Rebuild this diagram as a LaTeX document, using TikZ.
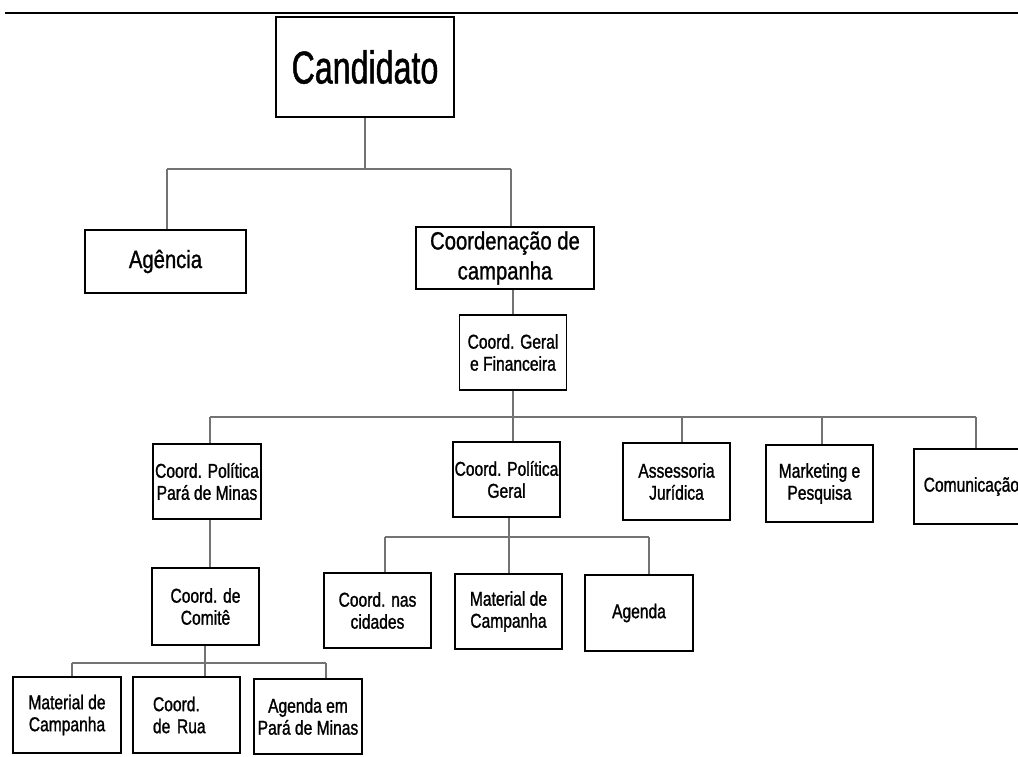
\documentclass[tikz,border=0pt]{standalone}
\usepackage{fontspec}
\setmainfont[FakeStretch=0.78,FakeBold=1.2]{Liberation Sans}
\newfontfamily\medfont[FakeStretch=0.81,FakeBold=1.0]{Liberation Sans}
\newfontfamily\bigfont[FakeStretch=0.70,FakeBold=1.0]{Liberation Sans}
\tikzset{
  box/.style={draw=black, line width=1.8pt, inner sep=0pt, align=center,
    minimum width=107, minimum height=75, font=\fontsize{20}{22}\selectfont},
  medbox/.style={box, font=\medfont\fontsize{25}{30}\selectfont},
  bigbox/.style={box, font=\bigfont\fontsize{46}{50}\selectfont},
  conn/.style={draw=black!55, line width=1.3pt},
  rule/.style={draw=black, line width=2pt}
}
\begin{document}
\begin{tikzpicture}[x=1pt,y=-1pt]
\useasboundingbox (0,0) rectangle (1018,756);
% top rule
\coordinate (tl) at (5,13);
\coordinate (tr) at (1018,13);
\draw[rule] (tl) -- (tr);

% nodes
\node[bigbox, minimum width=178, minimum height=100] (cand) at (365,67) {Candidato};
\node[medbox, minimum width=161, minimum height=63] (agen) at (165.5,261.5) {Agência};
\node[medbox, minimum width=178, minimum height=62] (coordc) at (505,258) {Coordenação de\\campanha};
\node[box] (geral) at (513,352.5) {Coord. Geral\\e Financeira};
\node[box, minimum width=108] (cpp) at (207,481.5) {Coord. Política\\Pará de Minas};
\node[box] (cpg) at (506.5,479.5) {Coord. Política\\Geral};
\node[box, minimum height=77] (assess) at (676.5,481.5) {Assessoria\\Jurídica};
\node[box, minimum height=77] (mkt) at (819.5,483.5) {Marketing e\\Pesquisa};
\node[box, minimum width=115, anchor=west] (com) at (913,486.5) {Comunicação};
\node[box, minimum height=77] (comite) at (205.5,606.5) {Coord. de\\Comitê};
\node[box] (cnc) at (377.5,610.5) {Coord. nas\\cidades};
\node[box] (mat) at (508.5,611.5) {Material de\\Campanha};
\node[box, minimum width=108, minimum height=76] (agenda) at (639,613) {Agenda};
\node[box, minimum width=108, minimum height=76] (mat2) at (67,715) {Material de\\Campanha};
\node[box, minimum height=76, align=left, text width=67, inner xsep=20] (rua) at (186.5,715) {Coord.\\de Rua};
\node[box, minimum width=108] (agpm) at (308,716.5) {Agenda em\\Pará de Minas};

% level 1 bus
\coordinate (b1) at (365,169);
\coordinate (b1l) at (167,169);
\coordinate (b1r) at (511,169);
\draw[conn] (cand.south) -- (b1);
\draw[conn] (b1l) -- (b1r);
\draw[conn] (b1l) -- (b1l |- agen.north);
\draw[conn] (b1r) -- (b1r |- coordc.north);
\draw[conn] (coordc.south -| geral.north) -- (geral.north);

% level 2 bus
\coordinate (b2l) at (210,417);
\coordinate (b2r) at (976,417);
\coordinate (d3) at (682,417);
\coordinate (d4) at (822,417);
\draw[conn] (geral.south) -- (geral.south |- cpg.north);
\draw[conn] (b2l) -- (b2r);
\draw[conn] (b2l) -- (b2l |- cpp.north);
\draw[conn] (d3) -- (d3 |- assess.north);
\draw[conn] (d4) -- (d4 |- mkt.north);
\draw[conn] (b2r) -- (b2r |- com.north);
\draw[conn] (b2l |- cpp.south) -- (b2l |- comite.north);

% level 3 bus (Coord. Politica Geral)
\coordinate (b3) at (509,537);
\coordinate (b3l) at (385,537);
\coordinate (b3r) at (649,537);
\draw[conn] (cpg.south -| b3) -- (b3 |- mat.north);
\draw[conn] (b3l) -- (b3r);
\draw[conn] (b3l) -- (b3l |- cnc.north);
\draw[conn] (b3r) -- (b3r |- agenda.north);

% level 3 bus (Comite)
\coordinate (b4) at (205,663);
\coordinate (b4l) at (72,663);
\coordinate (b4r) at (326,663);
\draw[conn] (comite.south -| b4) -- (b4 |- rua.north);
\draw[conn] (b4l) -- (b4r);
\draw[conn] (b4l) -- (b4l |- mat2.north);
\draw[conn] (b4r) -- (b4r |- agpm.north);
\end{tikzpicture}
\end{document}
